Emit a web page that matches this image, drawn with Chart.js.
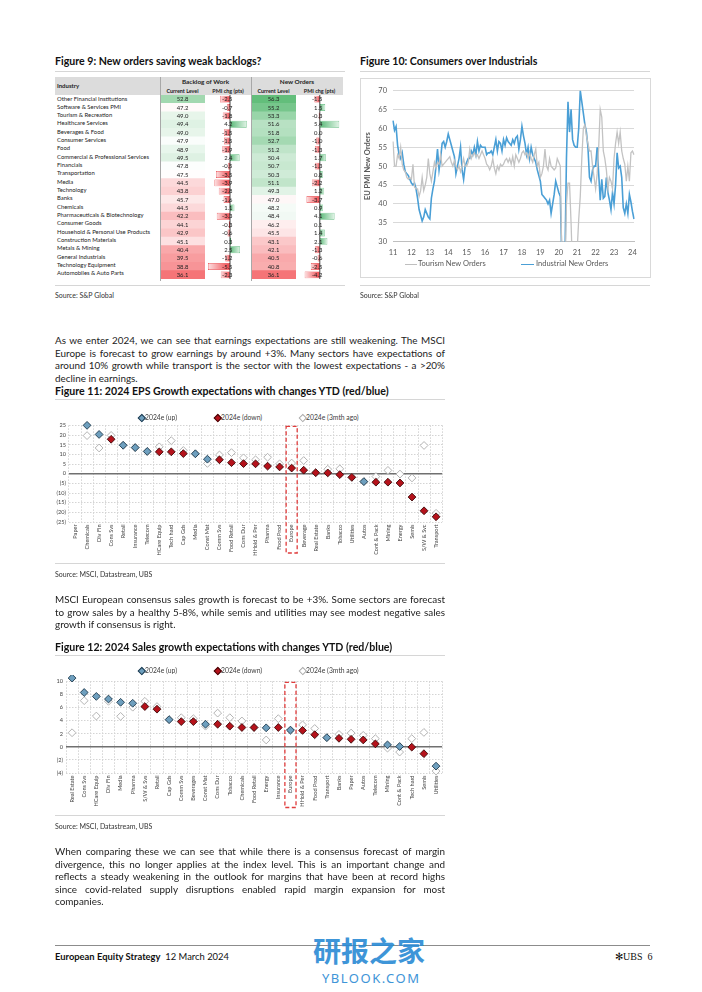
<!DOCTYPE html>
<html>
<head>
<meta charset="utf-8">
<title>European Equity Strategy</title>
<script src="https://cdn.jsdelivr.net/npm/chart.js@4.4.1/dist/chart.umd.min.js"></script>
<style>
  body { margin: 0; background: #fff; }
  #page { position: relative; width: 702px; height: 992px; overflow: hidden; font-family: Lato, "Open Sans", sans-serif; color: #1a1a1a; }
  .a { position: absolute; white-space: nowrap; }
  .fig { font-weight: 700; font-size: 10.6px; line-height: 13px; color: #111; }
  .rule { position: absolute; height: 1px; background: #d6d6d6; }
  .src { font-size: 7px; line-height: 9px; color: #333; }
  .para { position: absolute; left: 55px; width: 390px; font-size: 9.9px; line-height: 12.6px; color: #222; }
  .para div { text-align: justify; text-align-last: justify; white-space: nowrap; }
  .para div.last { text-align-last: left; }
  canvas { position: absolute; }
  .th { position: absolute; font-weight: 700; font-size: 6px; line-height: 8px; color: #222; text-align: center; white-space: nowrap; }
  .rowname { position: absolute; left: 57px; font-size: 5.9px; color: #222; white-space: nowrap; }
  .lg { position: absolute; font-size: 6.8px; line-height: 9px; color: #404040; white-space: nowrap; }
  .dia { position: absolute; width: 3.6px; height: 3.6px; transform: rotate(45deg); border: 0.8px solid; }
  .lline { position: absolute; height: 1.6px; }
</style>
</head>
<body>
<div id="page">

  <!-- Figure 9 -->
  <div class="a fig" style="left:55px;top:55px;">Figure 9: New orders saving weak backlogs?</div>
  <div class="rule" style="left:55px;top:71px;width:290px;"></div>
  <div class="a" style="left:55px;top:77px;width:288px;height:18px;background:#dcdcdc;"></div>
  <div class="th" style="left:57px;top:82px;text-align:left;">Industry</div>
  <div class="th" style="left:160px;top:78px;width:91px;font-size:6.4px;">Backlog of Work</div>
  <div class="th" style="left:251px;top:78px;width:92px;font-size:6.4px;">New Orders</div>
  <div class="th" style="left:160px;top:87px;width:45px;font-size:5.4px;">Current Level</div>
  <div class="th" style="left:205px;top:87px;width:46px;font-size:5.4px;">PMI chg (pts)</div>
  <div class="th" style="left:251px;top:87px;width:45px;font-size:5.4px;">Current Level</div>
  <div class="th" style="left:296px;top:87px;width:47px;font-size:5.4px;">PMI chg (pts)</div>
  <div id="rownames"></div>
  <canvas id="backlogLevelChart" width="45" height="184" style="left:160px;top:94.5px;"></canvas>
  <canvas id="backlogChgChart" width="44" height="184" style="left:206px;top:94.5px;"></canvas>
  <canvas id="newLevelChart" width="45" height="184" style="left:251px;top:94.5px;"></canvas>
  <canvas id="newChgChart" width="45" height="184" style="left:300px;top:94.5px;"></canvas>
  <div class="a" style="left:160px;top:77px;width:1px;height:204px;background:#a8a8a8;"></div>
  <div class="a" style="left:251px;top:77px;width:1px;height:204px;background:#a8a8a8;"></div>
  <div class="rule" style="left:55px;top:285px;width:290px;"></div>
  <div class="a src" style="left:55px;top:291px;">Source: S&amp;P Global</div>

  <!-- Figure 10 -->
  <div class="a fig" style="left:360px;top:55px;">Figure 10: Consumers over Industrials</div>
  <div class="rule" style="left:360px;top:71px;width:290px;"></div>
  <div class="a" style="left:360px;top:78px;width:289px;height:198px;border:1px solid #d9d9d9;"></div>
  <canvas id="pmiChart" width="290" height="180" style="left:360px;top:80px;"></canvas>
  <div class="lline" style="left:405px;top:263.5px;width:12px;background:#bfbfbf;"></div>
  <div class="a" style="left:418px;top:259px;font-size:7.5px;line-height:10px;color:#595959;">Tourism New Orders</div>
  <div class="lline" style="left:521px;top:263.5px;width:13px;background:#4a9fd6;"></div>
  <div class="a" style="left:536px;top:259px;font-size:7.5px;line-height:10px;color:#595959;">Industrial New Orders</div>
  <div class="rule" style="left:360px;top:285px;width:290px;"></div>
  <div class="a src" style="left:360px;top:291px;">Source: S&amp;P Global</div>

  <!-- Paragraph 1 -->
  <div class="para" style="top:334px;">
    <div>As we enter 2024, we can see that earnings expectations are still weakening. The MSCI</div>
    <div>Europe is forecast to grow earnings by around +3%. Many sectors have expectations of</div>
    <div>around 10% growth while transport is the sector with the lowest expectations - a &gt;20%</div>
    <div class="last">decline in earnings.</div>
  </div>

  <!-- Figure 11 -->
  <div class="a fig" style="left:55px;top:384.5px;">Figure 11: 2024 EPS Growth expectations with changes YTD (red/blue)</div>
  <div class="rule" style="left:55px;top:399px;width:390px;"></div>
  <div class="dia" style="left:139px;top:414.5px;background:#6e9fbe;border-color:#1f3a4d;"></div>
  <div class="lg" style="left:145px;top:412.5px;">2024e (up)</div>
  <div class="dia" style="left:215px;top:414.5px;background:#b5121b;border-color:#3d0808;"></div>
  <div class="lg" style="left:221px;top:412.5px;">2024e (down)</div>
  <div class="dia" style="left:300px;top:414.5px;background:#fff;border-color:#aaa;"></div>
  <div class="lg" style="left:306px;top:412.5px;">2024e (3mth ago)</div>
  <canvas id="epsChart" width="392" height="143" style="left:55px;top:419px;"></canvas>
  <div class="rule" style="left:55px;top:563px;width:390px;"></div>
  <div class="a src" style="left:55px;top:570px;">Source: MSCI, Datastream, UBS</div>

  <!-- Paragraph 2 -->
  <div class="para" style="top:593px;">
    <div>MSCI European consensus sales growth is forecast to be +3%. Some sectors are forecast</div>
    <div>to grow sales by a healthy 5-8%, while semis and utilities may see modest negative sales</div>
    <div class="last">growth if consensus is right.</div>
  </div>

  <!-- Figure 12 -->
  <div class="a fig" style="left:55px;top:640.5px;">Figure 12: 2024 Sales growth expectations with changes YTD (red/blue)</div>
  <div class="rule" style="left:55px;top:655px;width:390px;"></div>
  <div class="dia" style="left:139px;top:667.5px;background:#6e9fbe;border-color:#1f3a4d;"></div>
  <div class="lg" style="left:145px;top:665.5px;">2024e (up)</div>
  <div class="dia" style="left:215px;top:667.5px;background:#b5121b;border-color:#3d0808;"></div>
  <div class="lg" style="left:221px;top:665.5px;">2024e (down)</div>
  <div class="dia" style="left:300px;top:667.5px;background:#fff;border-color:#aaa;"></div>
  <div class="lg" style="left:306px;top:665.5px;">2024e (3mth ago)</div>
  <canvas id="salesChart" width="392" height="134" style="left:55px;top:675px;"></canvas>
  <div class="rule" style="left:55px;top:815px;width:390px;"></div>
  <div class="a src" style="left:55px;top:822px;">Source: MSCI, Datastream, UBS</div>

  <!-- Paragraph 3 -->
  <div class="para" style="top:845px;">
    <div>When comparing these we can see that while there is a consensus forecast of margin</div>
    <div>divergence, this no longer applies at the index level. This is an important change and</div>
    <div>reflects a steady weakening in the outlook for margins that have been at record highs</div>
    <div>since covid-related supply disruptions enabled rapid margin expansion for most</div>
    <div class="last">companies.</div>
  </div>

  <!-- Footer -->
  <div class="a" style="left:55px;top:945px;width:595px;height:1px;background:#8c8c8c;"></div>
  <div class="a" style="left:55px;top:951px;font-size:9.4px;line-height:12px;color:#111;"><b>European Equity Strategy</b>&nbsp;&nbsp;12 March 2024</div>
  <div class="a" style="left:313px;top:933px;font-family:'Noto Sans CJK SC';font-weight:700;font-size:28px;line-height:34px;color:#2a8ad4;opacity:0.9;">研报之家</div>
  <div class="a" style="left:322px;top:970px;font-family:'Noto Sans';font-size:13px;line-height:16px;letter-spacing:1.5px;color:#2a8ad4;opacity:0.9;">YBLOOK.COM</div>
  <div class="a" style="left:615px;top:950px;font-family:'Liberation Serif';font-size:10px;line-height:13px;color:#111;">✻UBS&nbsp;&nbsp;6</div>
</div>

<script>
// ---------- Figure 9 data ----------
const industries = [
  "Other Financial Institutions", "Software & Services PMI", "Tourism & Recreation", "Healthcare Services",
  "Beverages & Food", "Consumer Services", "Food", "Commercial & Professional Services", "Financials",
  "Transportation", "Media", "Technology", "Banks", "Chemicals", "Pharmaceuticals & Biotechnology",
  "Consumer Goods", "Household & Personal Use Products", "Construction Materials", "Metals & Mining",
  "General Industrials", "Technology Equipment", "Automobiles & Auto Parts"
];
const backlogLevel = [52.8, 47.2, 49.0, 49.4, 49.0, 47.9, 48.9, 49.5, 47.8, 47.5, 44.5, 43.8, 45.7, 44.5, 42.2, 44.1, 42.9, 45.1, 40.4, 39.5, 38.8, 36.1];
const backlogChg = [-2.5, -0.7, -1.8, 4.2, -1.5, -1.5, -1.9, 2.4, -0.5, -3.5, -3.9, -2.8, -1.6, 1.1, -3.3, -0.3, -0.6, 0.3, 2.5, -1.2, -5.5, -2.3];
const newOrdersLevel = [56.3, 55.2, 53.3, 51.6, 51.8, 52.7, 51.2, 50.4, 50.7, 50.3, 51.1, 49.3, 47.0, 48.2, 48.4, 46.2, 45.5, 43.1, 42.1, 40.5, 40.8, 36.1];
const newOrdersChg = [-1.5, 1.5, -0.3, 5.4, 0.0, -1.0, -1.3, 1.7, -1.3, 0.8, -2.2, 1.2, -3.7, 0.9, 4.1, 0.1, 1.4, 2.1, -1.3, -0.6, -2.5, -4.2];

// ---------- Figure 10 data (monthly, Jan 2011 - Feb 2024) ----------
const pmiMonths = [];
for (let y = 2011; y <= 2024; y++) {
  for (let m = 1; m <= 12; m++) {
    if (y < 2024 || m <= 2) pmiMonths.push(y + "-" + String(m).padStart(2, "0"));
  }
}
const yearTicks = ["11", "12", "13", "14", "15", "16", "17", "18", "19", "20", "21", "22", "23", "24"];
const tourismNewOrders = [
  56.5, 50, 50, 53, 52, 55, 50.5, 49, 48.5, 47, 46.5, 47,
  46.5, 50.5, 44.5, 44, 44, 42, 43.5, 47, 43.5, 45, 47, 52,
  48, 46, 48.5, 51, 49.5, 51, 50.5, 53, 50, 50.5, 51, 51.5,
  52, 52.5, 51, 50, 51.5, 50, 49, 50, 48.5, 50, 52, 50,
  50, 51, 54.5, 52, 53, 53.5, 52.5, 53, 52, 53, 54, 53,
  52, 50.5, 50, 49, 50, 52, 49.5, 48, 50, 49, 50.5, 50,
  50.5, 51.5, 52, 51, 52, 50.5, 52.5, 50, 53, 52, 51, 52,
  53.5, 54, 53, 53.5, 52, 53.5, 52, 51, 53, 54.5, 50, 51,
  47, 48, 50, 54.5, 50, 49, 52, 50, 49.5, 49, 49.5, 52,
  51, 50, 25, 10, 20, 40, 45.5, 45.5, 35, 22, 15, 22,
  28, 36, 42, 52, 60, 61, 58, 56, 54, 54, 50, 47,
  44, 48, 55, 65, 63, 54, 52, 49, 44, 47, 46, 44,
  52, 56, 59, 56, 59, 54, 52, 50.5, 46, 50, 46, 53.5,
  54, 53
];
const industrialNewOrders = [
  62, 59.5, 60.5, 55.5, 53, 52, 53.5, 50.5, 48.5, 48, 47.5, 46.5,
  45.5, 45, 45.5, 44, 41.5, 38.5, 37, 35.5, 36.5, 38.5, 37.5, 36.5,
  36, 41.5, 44, 46, 50, 54.5, 49, 52, 56, 56.5, 55, 56.5,
  58.5, 57, 55.5, 54, 52.5, 48, 50, 52, 55, 49, 46.5, 50,
  51, 52, 52, 54, 53, 55, 53, 56.5, 54, 55.5, 55, 55,
  55, 53, 53.5, 53.5, 54, 53, 55, 57, 54, 56.5, 56, 54,
  57, 55.5, 57.5, 56.5, 56, 55.5, 57, 56, 57.5, 58, 54.5, 57,
  60.5, 58, 56, 53, 55, 52, 55, 53, 52, 51, 49, 47.5,
  46, 42.5, 42, 41.5, 41, 40, 41, 37.5, 40, 42.5, 46, 44.5,
  43, 42, 25, 12, 25, 52, 67, 59, 65, 57, 55.5, 55,
  55, 60, 70, 67, 64, 61, 59, 55, 47, 46, 49, 50,
  50, 55, 48, 41, 46.5, 41.5, 42, 47, 43, 41, 38.5, 43,
  40, 45, 53.5, 49.5, 50, 47, 39, 37.5, 40, 37.5, 42.5, 40.5,
  38, 36
];

// ---------- Figure 11 data ----------
const epsCategories = ["Paper", "Chemicals", "Div Fin", "Cons Svs", "Retail", "Insurance", "Telecom", "HCare Equip", "Tech hard", "Cap Gds", "Media", "Const Mat", "Comm Svs", "Food Retail", "Cons Dur", "HHold & Per", "Pharma", "Food Prod", "Europe", "Beverage", "Real Estate", "Banks", "Tobacco", "Utilities", "Autos", "Cont & Pack", "Mining", "Energy", "Semis", "S/W & Svc", "Transport"];
const epsUp   = [null, 25, 20.3, null, 14.7, 13.5, 11.5, null, null, null, 10.3, 7.5, null, null, null, null, null, null, null, null, null, null, null, null, -4.1, null, null, null, null, null, null];
const epsDown = [null, null, null, 17.8, null, null, null, 11.3, 11.3, 10.4, null, null, 7.2, 5.7, 5.2, 5.1, 3.9, 3.5, 2.9, 1.8, 0.5, 0.4, -0.5, -1.9, null, -4.4, -4.4, -4.8, -12.1, -19.2, -22.3];
const eps3m   = [null, 19.7, 13.3, 19.8, 14.7, 13.5, 11.5, 13.9, 17.1, 12.0, 10.3, 5.3, 9.7, 10.9, 8.2, 7.2, 8.5, 5.1, 5.5, 6.8, 0.5, 2.3, 2.5, -1.9, -4.1, -1.5, 1.7, -0.2, -2.2, 14.6, -20.5];

// ---------- Figure 12 data ----------
const salesCategories = ["Real Estate", "Cons Svs", "HCare Equip", "Div Fin", "Media", "Pharma", "S/W & Svs", "Retail", "Cap Gds", "Comm Svs", "Beverages", "Const Mat", "Cons Dur", "Tobacco", "Chemicals", "Food Retail", "Energy", "Insurance", "Europe", "HHold & Per", "Food Prod", "Transport", "Banks", "Paper", "Autos", "Telecom", "Mining", "Cont & Pack", "Tech hard", "Semis", "Utilities"];
const salesUp   = [10.5, 8.3, 7.7, 7.3, 6.8, 6.65, null, null, 4.15, null, null, 3.45, null, null, null, null, 2.9, null, 2.55, null, null, 1.4, null, null, null, null, 0.3, 0.05, null, null, -2.95];
const salesDown = [null, null, null, null, null, null, 6.15, 5.75, null, 3.85, 3.85, null, 3.45, 3.15, 2.95, 2.95, null, 2.95, null, 2.5, 1.85, null, 1.3, 1.15, 1.05, 0.45, null, null, -0.05, -1.05, null];
const sales3m   = [2.15, 7.05, 4.7, 6.95, 4.65, 6.05, 6.95, 6.15, 4.15, 4.45, 4.3, 3.15, 5.15, 4.45, 3.95, 2.95, 1.05, 4.3, 2.55, 3.35, 2.8, 1.4, 1.9, 2.1, 1.75, 1.25, -0.2, -0.8, 1.25, 2.2, -3.7];

Chart.defaults.font.family = "Lato, 'Open Sans', sans-serif";
Chart.defaults.color = "#444";
Chart.defaults.animation = false;

// ---------- Figure 9: table ----------
var rowHtml = "";
industries.forEach(function (name, i) {
  rowHtml += '<div class="rowname" style="top:' + (94.5 + i * 8.33) + 'px;line-height:8.33px;"></div>';
});
document.getElementById("rownames").innerHTML = rowHtml;
document.querySelectorAll("#rownames .rowname").forEach(function (el, i) { el.textContent = industries[i]; });

var allLevels = backlogLevel.concat(newOrdersLevel).sort(function (a, b) { return a - b; });
var lvMin = allLevels[0], lvMax = allLevels[allLevels.length - 1];
var lvMid = (allLevels[21] + allLevels[22]) / 2;

function heatColor(v) {
  var red = [245, 116, 119], white = [255, 255, 255], green = [99, 190, 123];
  var target, t;
  if (v >= lvMid) { target = green; t = (v - lvMid) / (lvMax - lvMid); }
  else { target = red; t = (lvMid - v) / (lvMid - lvMin); }
  var c = white.map(function (w, i) { return Math.round(w + (target[i] - w) * t); });
  return "rgb(" + c.join(",") + ")";
}

var cellText = {
  id: "cellText",
  afterDatasetsDraw: function (chart) {
    var ctx = chart.ctx, vals = chart.options.plugins.cellText.values;
    var meta = chart.getDatasetMeta(0);
    ctx.save();
    ctx.font = "5.9px Lato";
    ctx.fillStyle = "#222";
    ctx.textAlign = "center";
    ctx.textBaseline = "middle";
    meta.data.forEach(function (bar, i) {
      ctx.fillText(vals[i].toFixed(1), (chart.chartArea.left + chart.chartArea.right) / 2, bar.y + 0.3);
    });
    ctx.restore();
  }
};

function levelChart(id, values) {
  new Chart(document.getElementById(id), {
    type: "bar",
    data: {
      labels: industries,
      datasets: [{
        data: values.map(function () { return [0, 1]; }),
        backgroundColor: values.map(heatColor),
        borderWidth: 0,
        barPercentage: 1,
        categoryPercentage: 1
      }]
    },
    options: {
      indexAxis: "y",
      responsive: false,
      layout: { padding: 0 },
      plugins: { legend: { display: false }, tooltip: { enabled: false }, cellText: { values: values } },
      scales: { x: { display: false, min: 0, max: 1 }, y: { display: false } }
    },
    plugins: [cellText]
  });
}

var chgText = {
  id: "chgText",
  afterDatasetsDraw: function (chart) {
    var ctx = chart.ctx, area = chart.chartArea;
    var x0 = chart.scales.x.getPixelForValue(0);
    var vals = chart.data.datasets[0].data;
    var meta = chart.getDatasetMeta(0);
    ctx.save();
    ctx.strokeStyle = "#111";
    ctx.lineWidth = 0.8;
    ctx.beginPath();
    ctx.moveTo(x0, area.top);
    ctx.lineTo(x0, area.bottom);
    ctx.stroke();
    ctx.font = "5.9px Lato";
    ctx.fillStyle = "#222";
    ctx.textAlign = "right";
    ctx.textBaseline = "middle";
    meta.data.forEach(function (bar, i) {
      ctx.fillText(vals[i].toFixed(1), x0 + 2.5, bar.y + 0.3);
    });
    ctx.restore();
  }
};

function barGradient(context) {
  var chart = context.chart;
  if (!chart.chartArea) return "#ccc";
  var v = context.raw;
  var sx = chart.scales.x;
  var p0 = sx.getPixelForValue(0), p1 = sx.getPixelForValue(v);
  if (p0 === p1) p1 = p0 + 0.5;
  var g = chart.ctx.createLinearGradient(p0, 0, p1, 0);
  if (v < 0) { g.addColorStop(0, "rgb(240,70,75)"); g.addColorStop(1, "rgba(252,225,226,1)"); }
  else { g.addColorStop(0, "rgb(90,185,120)"); g.addColorStop(1, "rgba(225,243,230,1)"); }
  return g;
}

function chgChart(id, values, min, max) {
  new Chart(document.getElementById(id), {
    type: "bar",
    data: {
      labels: industries,
      datasets: [{
        data: values,
        backgroundColor: barGradient,
        borderColor: function (c) { return c.raw < 0 ? "#e8454a" : "#5cb97a"; },
        borderWidth: 0.6,
        borderSkipped: false,
        barPercentage: 0.82,
        categoryPercentage: 1
      }]
    },
    options: {
      indexAxis: "y",
      responsive: false,
      layout: { padding: 0 },
      plugins: { legend: { display: false }, tooltip: { enabled: false } },
      scales: { x: { display: false, min: min, max: max }, y: { display: false } }
    },
    plugins: [chgText]
  });
}

levelChart("backlogLevelChart", backlogLevel);
chgChart("backlogChgChart", backlogChg, -6, 5);
levelChart("newLevelChart", newOrdersLevel);
chgChart("newChgChart", newOrdersChg, -5.5, 7);

// ---------- Figure 10: line chart ----------
new Chart(document.getElementById("pmiChart"), {
  type: "line",
  data: {
    labels: pmiMonths,
    datasets: [
      { label: "Tourism New Orders", data: tourismNewOrders, borderColor: "#c3c3c3", borderWidth: 1.3, pointRadius: 0, tension: 0 },
      { label: "Industrial New Orders", data: industrialNewOrders, borderColor: "#4a9fd6", borderWidth: 1.6, pointRadius: 0, tension: 0 }
    ]
  },
  options: {
    responsive: false,
    layout: { padding: { top: 5.7, right: 16, left: 3, bottom: 2.3 } },
    plugins: { legend: { display: false }, tooltip: { enabled: false } },
    scales: {
      x: {
        grid: { display: false, drawTicks: false },
        border: { color: "#bfbfbf" },
        afterFit: function (s) { s.height = 16; },
        ticks: {
          autoSkip: false, maxRotation: 0, minRotation: 0, padding: 6,
          font: { size: 7.5 }, color: "#595959",
          callback: function (v, i) {
            var m = pmiMonths[i];
            return m.slice(5) === "01" ? yearTicks[Number(m.slice(0, 4)) - 2011] : "";
          }
        }
      },
      y: {
        min: 30, max: 70,
        afterFit: function (s) { s.width = 30; },
        grid: { color: "#d9d9d9", drawTicks: false },
        border: { display: false },
        ticks: { stepSize: 5, padding: 6, font: { size: 7.5 }, color: "#595959" },
        title: { display: true, text: "EU PMI New Orders", font: { size: 7.5, weight: "bold" }, color: "#595959", padding: { top: 0, bottom: 2 } }
      }
    }
  }
});

// ---------- Figures 11 & 12: diamond charts ----------
var refMarks = {
  id: "refMarks",
  beforeDatasetsDraw: function (chart) {
    var ctx = chart.ctx, area = chart.chartArea;
    var y0 = chart.scales.y.getPixelForValue(0);
    ctx.save();
    ctx.strokeStyle = "#707070";
    ctx.lineWidth = 1.4;
    ctx.beginPath();
    ctx.moveTo(area.left, y0);
    ctx.lineTo(area.right, y0);
    ctx.stroke();
    ctx.restore();
  },
  afterDraw: function (chart) {
    var ctx = chart.ctx, area = chart.chartArea, sx = chart.scales.x;
    var i = chart.data.labels.indexOf("Europe");
    var half = (sx.getPixelForValue(1) - sx.getPixelForValue(0)) / 2;
    var cx = sx.getPixelForValue(i);
    var bottom = chart.options.plugins.refMarks.bottom;
    ctx.save();
    ctx.strokeStyle = "#e03c3c";
    ctx.lineWidth = 1.3;
    ctx.setLineDash([4, 2.5]);
    ctx.strokeRect(cx - half + 0.5, area.top + 1, 2 * half - 1, bottom - area.top - 1);
    ctx.restore();
  }
};

function fmtTick(v) { return v < 0 ? "(" + (-v) + ")" : String(v); }

function diamondChart(id, cats, up, down, prev, yMin, yMax, step, yWidth, xHeight, boxBottom) {
  var pt = { showLine: false, pointStyle: "rectRot", pointRadius: 3.9, pointBorderWidth: 0.9, clip: false };
  new Chart(document.getElementById(id), {
    type: "line",
    data: {
      labels: cats,
      datasets: [
        Object.assign({ label: "2024e (up)", data: up, pointBackgroundColor: "#6e9fbe", pointBorderColor: "#1f3a4d" }, pt),
        Object.assign({ label: "2024e (down)", data: down, pointBackgroundColor: "#b5121b", pointBorderColor: "#3d0808" }, pt),
        Object.assign({ label: "2024e (3mth ago)", data: prev, pointBackgroundColor: "#ffffff", pointBorderColor: "#ababab" }, pt)
      ]
    },
    options: {
      responsive: false,
      layout: { padding: { top: 5, right: 3, left: 0, bottom: 0 } },
      plugins: { legend: { display: false }, tooltip: { enabled: false }, refMarks: { bottom: boxBottom } },
      scales: {
        x: {
          offset: true,
          afterFit: function (s) { s.height = xHeight; },
          grid: { color: "#d4d4d4", drawTicks: false, offset: true },
          border: { display: false, dash: [1.5, 1.5] },
          ticks: { autoSkip: false, minRotation: 90, maxRotation: 90, padding: 2.5, font: { size: 5.6 }, color: "#444" }
        },
        y: {
          min: yMin, max: yMax,
          afterFit: function (s) { s.width = yWidth; },
          grid: { color: "#d4d4d4", drawTicks: false },
          border: { display: false, dash: [1.5, 1.5] },
          ticks: { stepSize: step, autoSkip: false, padding: 3, font: { size: 5.6 }, color: "#444", callback: fmtTick }
        }
      }
    },
    plugins: [refMarks]
  });
}

diamondChart("epsChart", epsCategories, epsUp, epsDown, eps3m, -25, 25, 5, 14, 40, 134);
diamondChart("salesChart", salesCategories, salesUp, salesDown, sales3m, -4, 10, 2, 11, 36, 132.5);
</script>
</body>
</html>
